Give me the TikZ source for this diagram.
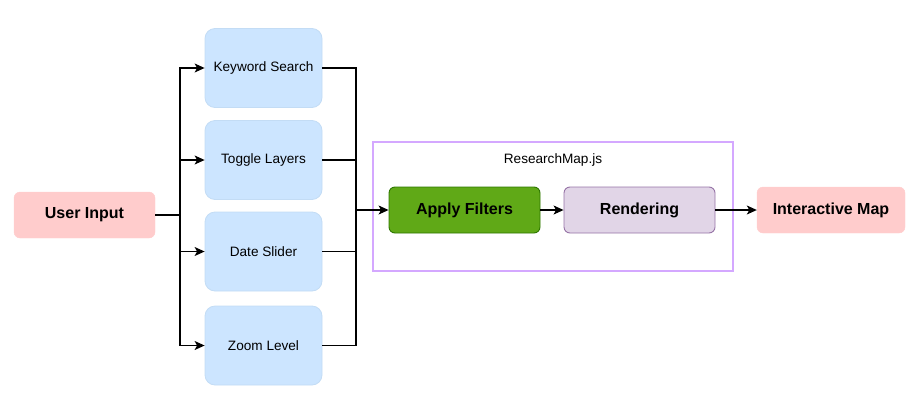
\documentclass[tikz,border=0pt]{standalone}
\usepackage{fontspec}
\setmainfont{Liberation Sans}
\usetikzlibrary{arrows.meta}
\definecolor{bluefill}{HTML}{CCE5FF}
\definecolor{blueline}{HTML}{C3DCF5}
\definecolor{pinkfill}{HTML}{FFCCCC}
\definecolor{greenfill}{HTML}{60A917}
\definecolor{greenline}{HTML}{2D7600}
\definecolor{purplefill}{HTML}{E1D5E7}
\definecolor{purpleline}{HTML}{9673A6}
\definecolor{boxline}{HTML}{D4A8FF}
\tikzset{
  inbox/.style={rectangle, rounded corners=10pt, fill=bluefill, draw=blueline, line width=0.8pt,
    minimum width=117pt, minimum height=79pt, font=\fontsize{13.6}{16}\selectfont, inner sep=0pt},
  pinkbox/.style={rectangle, rounded corners=6pt, fill=pinkfill, draw=pinkfill,
    minimum height=46pt, font=\fontsize{16}{19}\selectfont\bfseries, inner sep=0pt},
  greenbox/.style={rectangle, rounded corners=6pt, fill=greenfill, draw=greenline, line width=0.9pt,
    minimum width=151pt, minimum height=46pt, font=\fontsize{16}{19}\selectfont\bfseries, inner sep=0pt},
  purplebox/.style={rectangle, rounded corners=6pt, fill=purplefill, draw=purpleline, line width=0.9pt,
    minimum width=151pt, minimum height=46pt, font=\fontsize{16}{19}\selectfont\bfseries, inner sep=0pt},
  conn/.style={line width=1.1pt, draw=black},
  arr/.style={conn, -{Stealth[length=10pt,width=9pt,inset=2.5pt]}},
}
\begin{document}
\begin{tikzpicture}[x=1pt,y=-1pt]
\useasboundingbox (0,0) rectangle (920,410);
% container
\draw[boxline, line width=1.2pt] (373,142) rectangle (733,271);
\node[font=\fontsize{13.6}{16}\selectfont] (title) at (553,160) {ResearchMap.js};
% nodes
\node[pinkbox, minimum width=141pt] (ui) at (84.5,215) {User Input};
\node[inbox] (kw) at (263.5,68) {Keyword Search};
\node[inbox] (tl) at (263.5,160) {Toggle Layers};
\node[inbox] (ds) at (263.5,251.5) {Date Slider};
\node[inbox] (zl) at (263.5,345.5) {Zoom Level};
\node[greenbox] (af) at (464.5,210) {Apply Filters};
\node[purplebox] (rd) at (639.5,210) {Rendering};
\node[pinkbox, minimum width=148pt] (im) at (831,210) {Interactive Map};
% split / merge points
\coordinate (sl) at (180,215);
\coordinate (sr) at (356,210);
% left fan-out
\draw[conn] (ui.east) -- (sl);
\draw[arr] (sl) |- (kw.west);
\draw[arr] (sl) |- (tl.west);
\draw[arr] (sl) |- (ds.west);
\draw[arr] (sl) |- (zl.west);
% right merge
\draw[conn] (kw.east) -| (sr);
\draw[conn] (tl.east) -| (sr);
\draw[conn] (ds.east) -| (sr);
\draw[conn] (zl.east) -| (sr);
\draw[arr] (sr) -- (af.west);
% chain
\draw[arr] (af.east) -- (rd.west);
\draw[arr] (rd.east) -- (im.west);
\end{tikzpicture}
\end{document}
